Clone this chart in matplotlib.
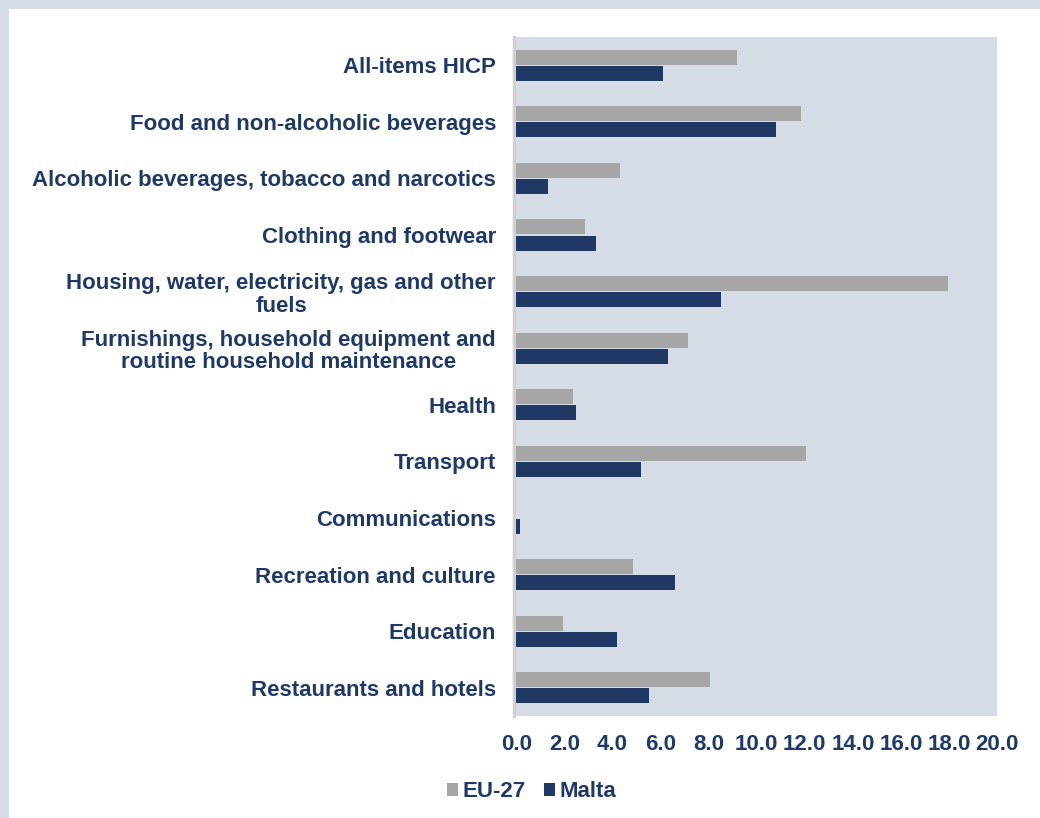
import matplotlib.pyplot as plt
import matplotlib.patches as patches
import numpy as np

# Categorie HICP e variazioni annue (%)
categories = ["All-items HICP",
              "Food and non-alcoholic beverages",
              "Alcoholic beverages, tobacco and narcotics",
              "Clothing and footwear",
              "Housing, water, electricity, gas and other\nfuels",
              "Furnishings, household equipment and\nroutine household maintenance",
              "Health",
              "Transport",
              "Communications",
              "Recreation and culture",
              "Education",
              "Restaurants and hotels"]
eu27 = [9.2, 11.85, 4.3, 2.85, 17.95, 7.15, 2.35, 12.05, 0.0, 4.85, 1.95, 8.05]
malta = [6.1, 10.8, 1.3, 3.3, 8.5, 6.3, 2.5, 5.2, 0.15, 6.6, 4.2, 5.5]
xticks = [0, 2, 4, 6, 8, 10, 12, 14, 16, 18, 20]

navy = '#1f3864'
grey = '#a6a6a6'
bg = '#d6dce5'

plt.rcParams['font.family'] = ['Liberation Sans', 'DejaVu Sans']
plt.rcParams['font.weight'] = 'bold'

fig = plt.figure(figsize=(10.4, 8.18), dpi=100)
fig.patch.set_facecolor(bg)
# cornice chiara in alto e a sinistra
fig.patches.append(patches.Rectangle((9 / 1040, 0), 1, 1 - 9 / 818, transform=fig.transFigure,
                                     facecolor='white', edgecolor='none', zorder=-10))

ax = fig.add_axes([0.4942, 0.1247, 0.4645, 0.8301])
ax.set_zorder(5)
ax.set_facecolor(bg)

y = np.arange(len(categories))
h = 0.265
ax.barh(y - h / 2 - 0.01, eu27, height=h, color=grey, label='EU-27', zorder=3)
ax.barh(y + h / 2 + 0.01, malta, height=h, color=navy, label='Malta', zorder=3)

ax.set_ylim(len(categories) - 0.5, -0.5)
ax.set_xlim(-0.1, 20)
ax.set_yticks(y)
ax.set_yticklabels(categories, multialignment='center', linespacing=1.1)
ax.set_xticks(xticks)
ax.set_xticklabels(['%.1f' % v for v in xticks])
ax.tick_params(axis='y', length=0, pad=13, labelsize=16, labelcolor=navy)
ax.tick_params(axis='x', length=0, pad=13, labelsize=16, labelcolor=navy)

for s in ['top', 'right', 'bottom']:
    ax.spines[s].set_visible(False)
ax.spines['left'].set_color('#d0d0d0')
ax.spines['left'].set_linewidth(2.5)
ax.spines['left'].set_zorder(1)

leg = fig.legend(loc='center', bbox_to_anchor=(0.511, 0.032), ncol=2, frameon=False,
                 fontsize=16, handlelength=0.5, handleheight=0.5, handletextpad=0.2,
                 columnspacing=0.8)
leg.set_zorder(6)
for t in leg.get_texts():
    t.set_color(navy)

plt.savefig('out.png', dpi=100, facecolor=fig.get_facecolor())
